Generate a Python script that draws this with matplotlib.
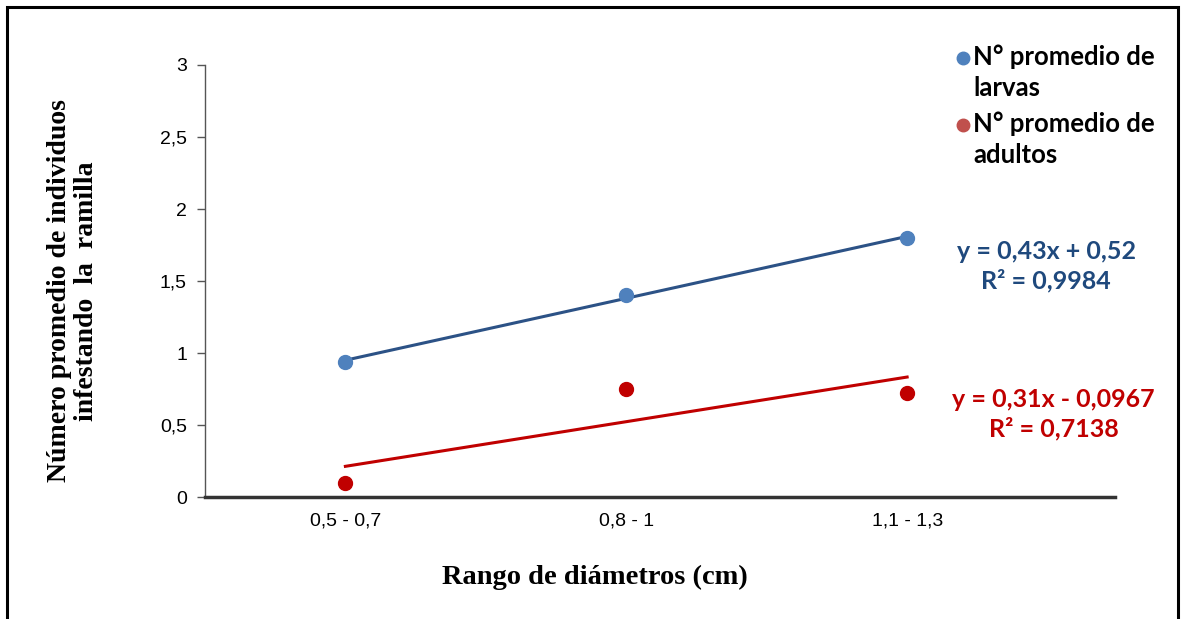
import numpy as np
import matplotlib
matplotlib.use("Agg")
import matplotlib.pyplot as plt
from matplotlib.patches import Rectangle
from matplotlib.lines import Line2D

# Data
categories = ["0,5 - 0,7", "0,8 - 1", "1,1 - 1,3"]
larvas = [0.94, 1.40, 1.80]
adultos = [0.10, 0.75, 0.72]
y_ticks = [0, 0.5, 1, 1.5, 2, 2.5, 3]
y_tick_labels = ["0", "0,5", "1", "1,5", "2", "2,5", "3"]
series_names = ["N° promedio de\nlarvas", "N° promedio de\nadultos"]

blue_marker = "#4F81BD"
blue_line = "#2C5286"
blue_text = "#1F497D"
red = "#C00000"
red_legend = "#C0504D"

fig = plt.figure(figsize=(11.84, 6.19), dpi=100)
ax = fig.add_axes([0.1731, 0.197, 0.7686, 0.698])

x = np.arange(1, len(categories) + 1)

# linear trendlines (Excel style)
m1, b1 = np.polyfit(x, larvas, 1)
m2, b2 = np.polyfit(x, adultos, 1)

ax.plot(x, m1 * x + b1, color=blue_line, lw=2.2, zorder=2)
ax.plot(x, m2 * x + b2, color=red, lw=2.2, zorder=2)
ax.plot(x, larvas, "o", color=blue_marker, ms=10, zorder=3)
ax.plot(x, adultos, "o", color=red, ms=10, zorder=3)

ax.set_xlim(0.5, 3.74)
ax.set_ylim(0, 3)
ax.set_xticks(x)
ax.set_yticks(y_ticks)
ax.tick_params(axis="x", length=0, pad=11)
ax.tick_params(axis="y", direction="out", length=6, width=1, color="#555555", pad=7)
ax.set_xticklabels(categories, family="Liberation Sans", fontsize=14)
ax.set_yticklabels(y_tick_labels, family="Liberation Sans", fontsize=14)

for s in ["top", "right"]:
    ax.spines[s].set_visible(False)
ax.spines["left"].set_color("#555555")
ax.spines["left"].set_linewidth(1)
ax.spines["bottom"].set_color("#333333")
ax.spines["bottom"].set_linewidth(2.5)

ax.set_xlabel("Rango de diámetros (cm)", family="Liberation Serif",
              weight="bold", fontsize=20.5)
ax.xaxis.set_label_coords(0.4286, -0.156)
ax.set_ylabel("Número promedio de individuos\ninfestando  la  ramilla",
              family="Liberation Serif", weight="bold", fontsize=20,
              linespacing=1.1)
ax.yaxis.set_label_coords(-0.116, 0.477)

# legend drawn by hand so the marker sits on the first text line
leg_font = {"family": "Lato", "weight": "bold", "size": 18.5}
leg_colors = [blue_marker, red_legend]
leg_tops = [0.928, 0.82]
for name, col, top in zip(series_names, leg_colors, leg_tops):
    fig.text(0.822, top, name, ha="left", va="top", linespacing=1.35, **leg_font)
    fig.add_artist(Line2D([0.8135], [top - 0.022], transform=fig.transFigure,
                          marker="o", ms=9, color=col, ls="none"))

# trendline equations
eq_font = {"family": "Lato", "weight": "bold", "size": 18}
fig.text(0.8835, 0.57, "y = 0,43x + 0,52\nR² = 0,9984",
         color=blue_text, ha="center", va="center", linespacing=1.3, **eq_font)
fig.text(0.890, 0.331, "y = 0,31x - 0,0967\nR² = 0,7138",
         color=red, ha="center", va="center", linespacing=1.3, **eq_font)

# outer border
fig.patches.append(Rectangle((0.006, -0.02), 0.989, 1.009, transform=fig.transFigure,
                             fill=False, ec="black", lw=2.2, clip_on=False))

fig.savefig("out.png", dpi=100)
